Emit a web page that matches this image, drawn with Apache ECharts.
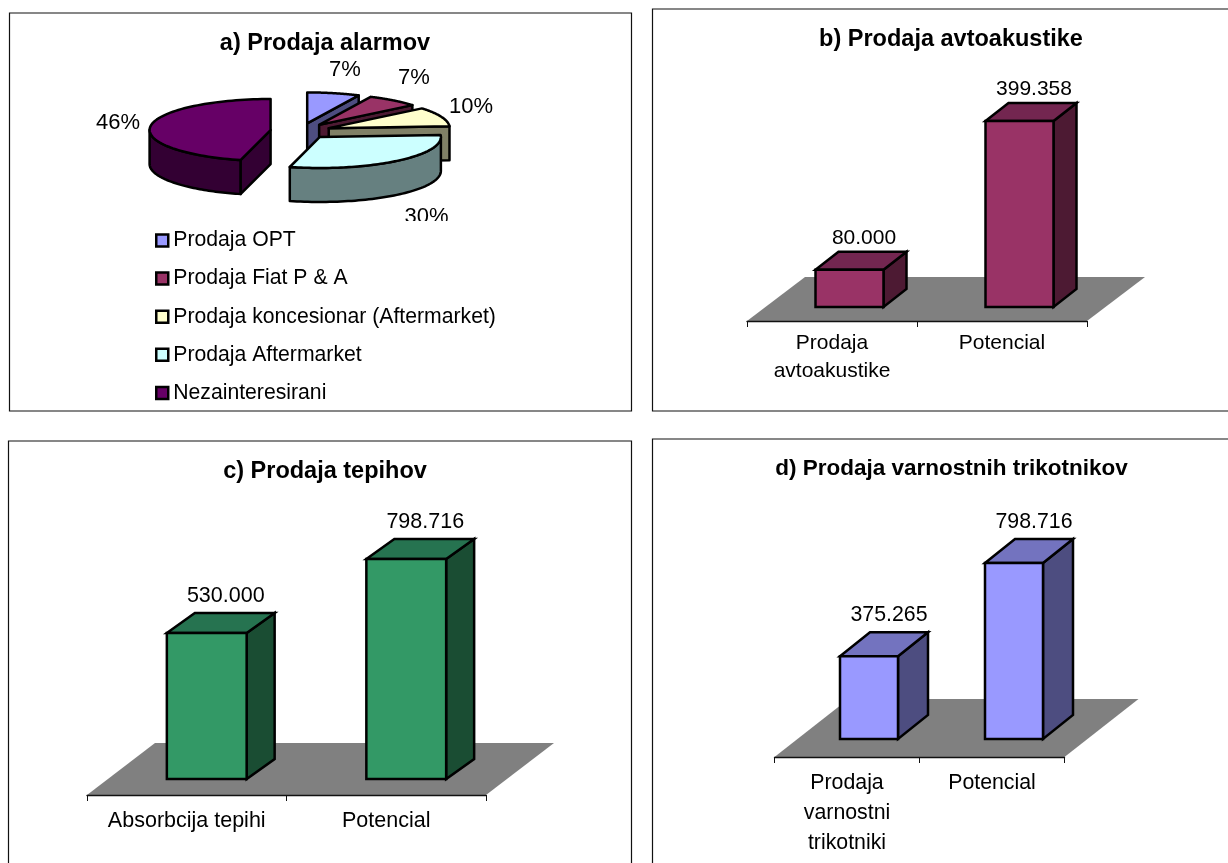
<!DOCTYPE html>
<html>
<head>
<meta charset="utf-8">
<title>Prodaja</title>
<script src="https://cdn.jsdelivr.net/npm/echarts@6/dist/echarts.min.js"></script>
<style>
  html, body { margin: 0; padding: 0; background: #fff; }
  #chart { width: 1228px; height: 863px; }
</style>
</head>
<body>
<div id="chart"></div>
<script>
// Chart values
const alarmNames = ['Prodaja OPT', 'Prodaja Fiat P & A', 'Prodaja koncesionar (Aftermarket)', 'Prodaja Aftermarket', 'Nezainteresirani'];
const alarmShares = [7, 7, 10, 30, 46];
const audioCategories = ['Prodaja\navtoakustike', 'Potencial'];
const audioValues = [80000, 399358];
const carpetCategories = ['Absorbcija tepihi', 'Potencial'];
const carpetValues = [530000, 798716];
const triangleCategories = ['Prodaja\nvarnostni\ntrikotniki', 'Potencial'];
const triangleValues = [375265, 798716];

const FONT = '"Liberation Sans", Arial, sans-serif';
const fmt = v => String(v).replace(/\B(?=(\d{3})+$)/g, '.');

const option = {
  animation: false,
  backgroundColor: '#fff',
  title: [], grid: [], xAxis: [], yAxis: [], series: [],
  legend: {
    left: 155, top: 230, padding: 0, orient: 'vertical', itemWidth: 12, itemHeight: 12, itemGap: 17.1,
    icon: 'rect', selectedMode: false,
    textStyle: { fontFamily: FONT, fontSize: 21.2, color: '#000' },
    itemStyle: { borderColor: '#000', borderWidth: 2.5 },
    data: alarmNames
  },
  // panel frames
  graphic: [
    [9.5, 13, 622, 398], [652.5, 9, 600, 402], [8.5, 441, 623, 440], [652.5, 439, 600, 440]
  ].map(r => ({
    type: 'rect', silent: true, z: 0,
    shape: { x: r[0], y: r[1], width: r[2], height: r[3] },
    style: { fill: 'none', stroke: '#111', lineWidth: 1.2 }
  }))
};

function addTitle(text, cx, cy, size) {
  option.title.push({
    text, left: cx, top: cy - size * 0.62, textAlign: 'center',
    textStyle: { fontFamily: FONT, fontSize: size, fontWeight: 'bold', color: '#000' }
  });
}

// A 3D column panel: the grid's baseline is the column foot, the axis sits on the floor's front edge.
function addBarPanel(cfg, categories, values) {
  const g = option.grid.length;
  const pxPerUnit = cfg.px / cfg.unit;
  const height = cfg.max * pxPerUnit;
  option.grid.push({ left: cfg.left, width: cfg.width, top: cfg.base - height, height });
  option.xAxis.push({
    gridIndex: g, type: 'category', data: categories, offset: cfg.floorOffset, z: 10,
    axisLine: { onZero: false, lineStyle: { color: '#111', width: 1.4 } },
    axisTick: { show: true, length: 6, lineStyle: { color: '#111', width: 1 } },
    axisLabel: {
      interval: 0, margin: cfg.labelMargin, lineHeight: cfg.lineHeight,
      fontFamily: FONT, fontSize: cfg.textSize, color: '#000'
    }
  });
  option.yAxis.push({ gridIndex: g, type: 'value', min: 0, max: cfg.max, show: false, splitLine: { show: false } });

  option.series.push({
    type: 'custom', xAxisIndex: g, yAxisIndex: g, z: 1, silent: true, clip: false,
    data: [0],
    renderItem(params) {
      const c = params.coordSys;
      const y = c.y + c.height + cfg.floorOffset;
      return {
        type: 'polygon',
        shape: { points: [[c.x, y], [c.x + c.width, y], [c.x + c.width + cfg.floorDx, y - cfg.floorDy], [c.x + cfg.floorDx, y - cfg.floorDy]] },
        style: { fill: '#808080' }
      };
    }
  });

  option.series.push({
    type: 'custom', xAxisIndex: g, yAxisIndex: g, z: 2, silent: true, clip: false,
    data: values.map((v, i) => [i, v]),
    renderItem(params, api) {
      const i = api.value(0), v = api.value(1);
      const top = api.coord([i, v]);
      const foot = api.coord([i, 0]);
      const w = api.size([1, 0])[0] * 0.4;
      const x0 = top[0] + cfg.shift - w / 2, x1 = x0 + w;
      const yt = top[1], yb = foot[1];
      const dx = cfg.depthX, dy = cfg.depthY;
      const edge = { stroke: '#000', lineWidth: 2.5, lineJoin: 'miter' };
      return {
        type: 'group',
        children: [
          { type: 'polygon', shape: { points: [[x1, yt], [x1 + dx, yt - dy], [x1 + dx, yb - dy], [x1, yb]] }, style: { fill: cfg.colors[2], ...edge } },
          { type: 'polygon', shape: { points: [[x0, yt], [x0 + dx, yt - dy], [x1 + dx, yt - dy], [x1, yt]] }, style: { fill: cfg.colors[1], ...edge } },
          { type: 'rect', shape: { x: x0, y: yt, width: w, height: yb - yt }, style: { fill: cfg.colors[0], ...edge } },
          {
            type: 'text',
            style: {
              text: fmt(v), x: top[0] + cfg.shift + cfg.labelDx, y: yt - dy - cfg.labelDy,
              align: 'center', verticalAlign: 'middle', fill: '#000',
              font: cfg.textSize + 'px ' + FONT
            }
          }
        ]
      };
    }
  });
}

// Exploded 3D pie: each slice is its own series so the legend can list it.
const pie = { cx: 300.6, cy: 131, a: 121, b: 31, h: 34, explode: 0.25 };
const pieTop = ['#9999FF', '#993366', '#FFFFCC', '#CCFFFF', '#660066'];
const pieWall = ['#4D4D80', '#4D1A33', '#808066', '#668080', '#330033'];
const pieLabelAt = [[345, 70], [414, 78], [471, 107], [426.5, 217], [118, 123]];
const pieOrder = [0, 1, 2, 4, 3];
const pieTotal = alarmShares.reduce((s, v) => s + v, 0);

function arcPoint(apex, deg) {
  const r = deg * Math.PI / 180;
  return [apex[0] + pie.a * Math.sin(r), apex[1] - pie.b * Math.cos(r)];
}

function sliceChildren(index, share) {
  const before = alarmShares.slice(0, index).reduce((s, v) => s + v, 0);
  const start = before / pieTotal * 360;
  const end = start + share / pieTotal * 360;
  const mid = (start + end) / 2 * Math.PI / 180;
  const apex = [
    pie.cx + pie.explode * pie.a * Math.sin(mid),
    pie.cy - pie.explode * pie.b * Math.cos(mid)
  ];
  const down = p => [p[0], p[1] + pie.h];
  const edge = { stroke: '#000', lineWidth: 2.5, lineJoin: 'round' };
  const wall = pieWall[index];
  const kids = [];
  const radialWall = deg => {
    const t = arcPoint(apex, deg);
    kids.push({ type: 'polygon', shape: { points: [apex, t, down(t), down(apex)] }, style: { fill: wall, ...edge } });
  };
  // radial faces turned towards the viewer
  if (Math.cos((start - 270) * Math.PI / 180) > 0) radialWall(start);
  if (Math.cos((end - 90) * Math.PI / 180) > 0) radialWall(end);
  // front part of the rim
  const from = Math.max(start, 90), to = Math.min(end, 270);
  if (to > from) {
    const rim = [];
    for (let d = from; d <= to + 1e-6; d += (to - from) / 60) rim.push(arcPoint(apex, d));
    kids.push({ type: 'polygon', shape: { points: rim.concat(rim.map(down).reverse()) }, style: { fill: wall, ...edge } });
  }
  // top face
  const face = [apex];
  for (let d = start; d <= end + 1e-6; d += (end - start) / 80) face.push(arcPoint(apex, d));
  kids.push({ type: 'polygon', shape: { points: face }, style: { fill: pieTop[index], ...edge } });
  return kids;
}

pieOrder.forEach((index, order) => {
  option.series.push({
    type: 'custom', name: alarmNames[index], coordinateSystem: 'none',
    z: 3 + order, silent: true,
    itemStyle: { color: pieTop[index] },
    data: [[alarmShares[index]]],
    renderItem(params, api) {
      const share = api.value(0);
      const children = sliceChildren(index, share);
      const at = pieLabelAt[index];
      children.push({
        type: 'text',
        style: { text: share + '%', x: at[0], y: at[1], align: 'center', verticalAlign: 'middle', fill: '#000', font: '22px ' + FONT }
      });
      return { type: 'group', children };
    }
  });
});

// the plot area ends just under the pie and cuts the lowest percentage short
option.graphic.push({
  type: 'rect', silent: true, z: 50,
  shape: { x: 395, y: 221, width: 70, height: 10 }, style: { fill: '#fff' }
});

addTitle('a) Prodaja alarmov', 320, 41, 23.5);
addTitle('b) Prodaja avtoakustike', 946, 37, 23.5);
addTitle('c) Prodaja tepihov', 320, 469, 23.5);
addTitle('d) Prodaja varnostnih trikotnikov', 946.5, 466, 22.5);

addBarPanel({
  left: 747, width: 340, base: 307, floorOffset: 14, floorDx: 58, floorDy: 44,
  px: 186, unit: 399358, max: 450000, shift: 17.5, depthX: 23, depthY: 18,
  labelDx: 14.5, labelDy: 14, labelMargin: 8, lineHeight: 28, textSize: 21,
  colors: ['#993366', '#732650', '#4D1A33']
}, audioCategories, audioValues);

addBarPanel({
  left: 87, width: 399, base: 779, floorOffset: 16, floorDx: 68, floorDy: 52,
  px: 220, unit: 798716, max: 900000, shift: 20, depthX: 28, depthY: 20,
  labelDx: 19, labelDy: 17, labelMargin: 12, lineHeight: 28, textSize: 21.5,
  colors: ['#339966', '#267350', '#1A4D33']
}, carpetCategories, carpetValues);

addBarPanel({
  left: 774.5, width: 290, base: 739, floorOffset: 18, floorDx: 74, floorDy: 58,
  px: 176, unit: 798716, max: 900000, shift: 22, depthX: 30, depthY: 24,
  labelDx: 20, labelDy: 17, labelMargin: 11, lineHeight: 30, textSize: 21.3,
  colors: ['#9999FF', '#7373BF', '#4D4D80']
}, triangleCategories, triangleValues);

echarts.init(document.getElementById('chart'), null, { renderer: 'canvas' }).setOption(option);
</script>
</body>
</html>
